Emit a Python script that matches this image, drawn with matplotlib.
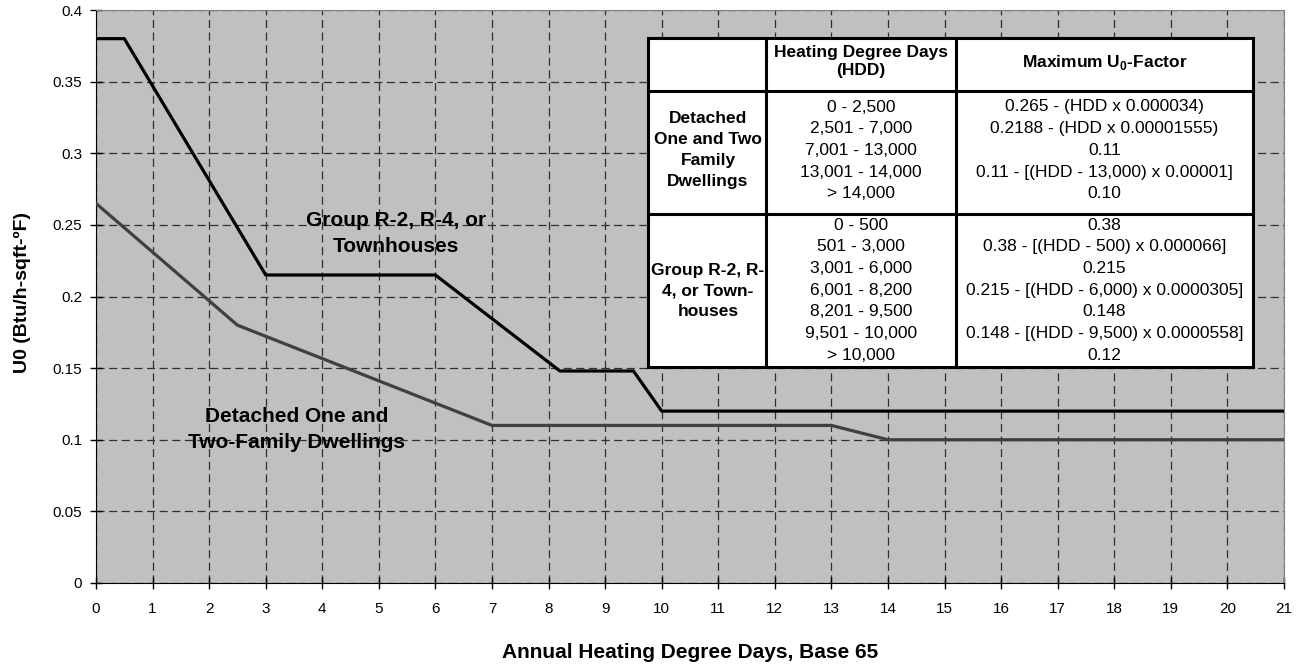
import matplotlib
matplotlib.use('Agg')
import matplotlib.pyplot as plt

plt.rcParams['font.family'] = ['Liberation Sans', 'DejaVu Sans']
plt.rcParams['mathtext.fontset'] = 'custom'
plt.rcParams['mathtext.rm'] = 'Liberation Sans'
plt.rcParams['mathtext.bf'] = 'Liberation Sans:bold'

# HDD in thousands, U0 factor
town_x = [0, 0.5, 3, 6, 8.2, 9.5, 10, 21]
town_y = [0.38, 0.38, 0.215, 0.215, 0.148, 0.148, 0.12, 0.12]
det_x = [0, 2.5, 7, 13, 14, 21]
det_y = [0.265, 0.18, 0.11, 0.11, 0.10, 0.10]

x_ticks = list(range(0, 22))
y_ticks = [0, 0.05, 0.1, 0.15, 0.2, 0.25, 0.3, 0.35, 0.4]
y_tick_labels = ['0', '0.05', '0.1', '0.15', '0.2', '0.25', '0.3', '0.35', '0.4']

hdr_hdd = ['Heating Degree Days', '(HDD)']
hdr_u = r'Maximum U$_\mathbf{0}$-Factor'
det_label = 'Detached\nOne and Two\nFamily\nDwellings'
det_hdd = ['0 - 2,500', '2,501 - 7,000', '7,001 - 13,000', '13,001 - 14,000', '> 14,000']
det_u = ['0.265 - (HDD x 0.000034)', '0.2188 - (HDD x 0.00001555)', '0.11',
         '0.11 - [(HDD - 13,000) x 0.00001]', '0.10']
town_label = 'Group R-2, R-\n4, or Town-\nhouses'
town_hdd = ['0 - 500', '501 - 3,000', '3,001 - 6,000', '6,001 - 8,200',
            '8,201 - 9,500', '9,501 - 10,000', '> 10,000']
town_u = ['0.38', '0.38 - [(HDD - 500) x 0.000066]', '0.215',
          '0.215 - [(HDD - 6,000) x 0.0000305]', '0.148',
          '0.148 - [(HDD - 9,500) x 0.0000558]', '0.12']

W, H = 1302, 665
fig = plt.figure(figsize=(W / 100, H / 100), dpi=100)
ax = fig.add_axes([96 / W, 1 - 583 / H, (1284 - 96) / W, (583 - 10) / H])
ax.set_facecolor('#c0c0c0')

ax.plot(town_x, town_y, color='black', lw=2.3, zorder=3)
ax.plot(det_x, det_y, color='#404040', lw=2.3, zorder=3)

ax.set_xlim(0, 21)
ax.set_ylim(0, 0.4)
ax.set_xticks(x_ticks)
ax.set_yticks(y_ticks)
ax.set_yticklabels(y_tick_labels)
ax.tick_params(direction='inout', length=8, width=1, labelsize=11)
ax.tick_params(axis='x', pad=10)
ax.tick_params(axis='y', pad=6)
ax.grid(True, color='#303030', linestyle=(0, (6.5, 3.6)), lw=0.9)
ax.set_axisbelow(True)
for s in ['top', 'right']:
    ax.spines[s].set_color('#808080')

xl = ax.set_xlabel('Annual Heating Degree Days, Base 65', fontsize=15, fontweight='bold')
ax.xaxis.set_label_coords(0.5, -(652 - 583) / 573)
xl.set_va('center')
yl = ax.set_ylabel('U0 (Btu/h-sqft-ºF)', fontsize=14, fontweight='bold')
ax.yaxis.set_label_coords((22 - 96) / 1188, (583 - 293) / 573)
yl.set_va('center')

ax.text(5.30, 0.244, 'Group R-2, R-4, or\nTownhouses', ha='center', va='center',
        fontsize=15, fontweight='bold', linespacing=1.45, zorder=4)
ax.text(3.55, 0.107, 'Detached One and\nTwo-Family Dwellings', ha='center', va='center',
        fontsize=15, fontweight='bold', linespacing=1.45, zorder=4)

# table drawn in pixel coordinates
x0, x1, y0, y1 = 648, 1253, 38, 367
c1, c2 = 766, 956
r1, r2 = 91, 214
tx = fig.add_axes([x0 / W, 1 - y1 / H, (x1 - x0) / W, (y1 - y0) / H])
tx.set_xlim(x0, x1)
tx.set_ylim(y1, y0)
tx.set_facecolor('white')
for s in tx.spines.values():
    s.set_linewidth(2.2)
    s.set_color('black')
    s.set_zorder(5)
tx.set_xticks([])
tx.set_yticks([])
for c in [c1, c2]:
    tx.plot([c, c], [y0, y1], color='black', lw=2.2, zorder=5)
for r in [r1, r2]:
    tx.plot([x0, x1], [r, r], color='black', lw=2.2, zorder=5)

fs = 12.5
cx0 = (x0 + c1) / 2 + 1
cx1 = (c1 + c2) / 2
cx2 = (c2 + x1) / 2
tx.text(cx1, 53, hdr_hdd[0], ha='center', va='center', fontsize=fs, fontweight='bold')
tx.text(cx1, 71, hdr_hdd[1], ha='center', va='center', fontsize=fs, fontweight='bold')
tx.text(cx2, 63, hdr_u, ha='center', va='center', fontsize=fs, fontweight='bold')
tx.text(cx0, 150, det_label, ha='center', va='center', fontsize=fs,
        fontweight='bold', linespacing=1.5)
tx.text(cx0, 291, town_label, ha='center', va='center', fontsize=fs,
        fontweight='bold', linespacing=1.5)

step = 21.7
for i, (a, b) in enumerate(zip(det_hdd, det_u)):
    yy = 107 + i * step
    tx.text(cx1, yy, a, ha='center', va='center', fontsize=fs)
    tx.text(cx2, yy, b, ha='center', va='center', fontsize=fs)
for i, (a, b) in enumerate(zip(town_hdd, town_u)):
    yy = 225 + i * step
    tx.text(cx1, yy, a, ha='center', va='center', fontsize=fs)
    tx.text(cx2, yy, b, ha='center', va='center', fontsize=fs)

plt.savefig('out.png', dpi=100)
